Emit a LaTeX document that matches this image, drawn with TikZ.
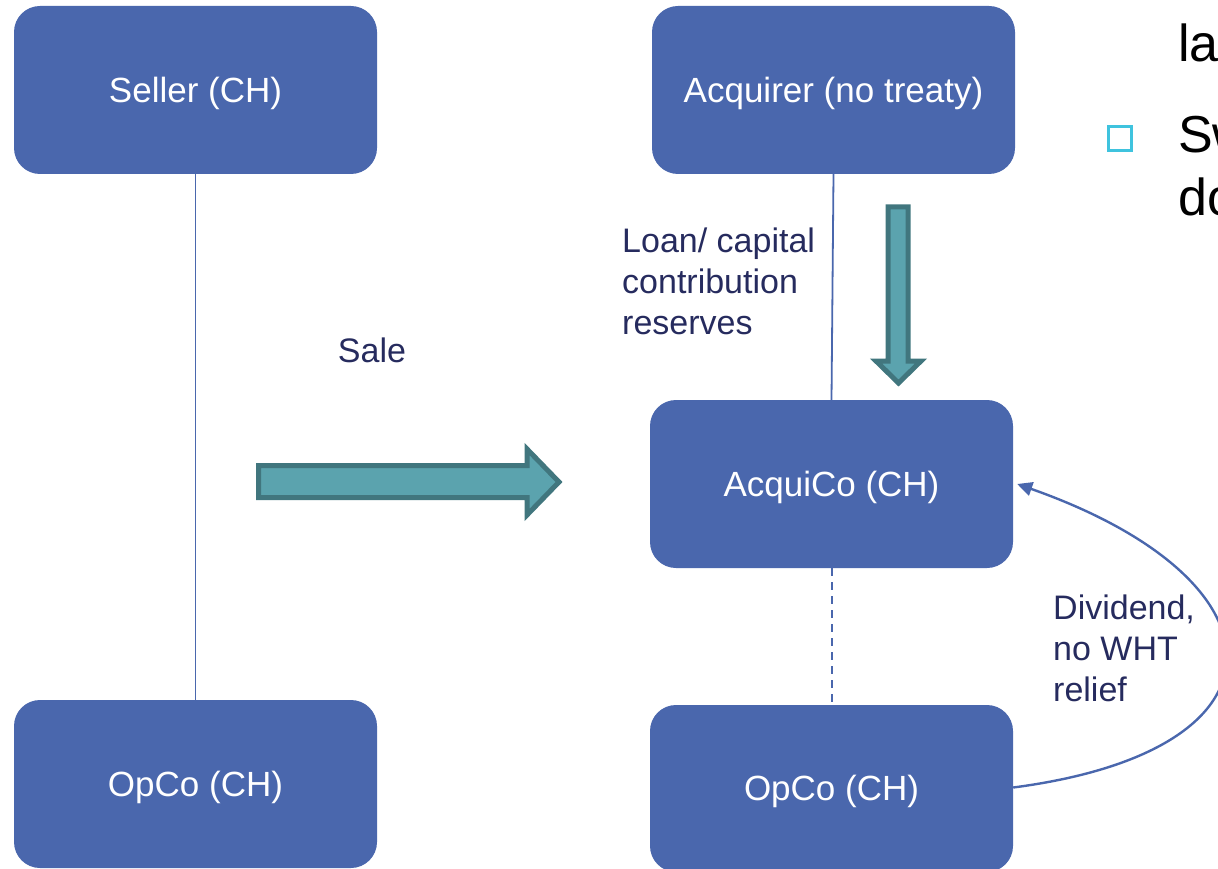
\documentclass[tikz,border=0pt]{standalone}
\usepackage{fontspec}
\setmainfont{Liberation Sans}
\usetikzlibrary{arrows.meta}
\definecolor{boxblue}{HTML}{4A67AD}
\definecolor{linkblue}{HTML}{4A67AD}
\definecolor{labelnavy}{HTML}{262B5E}
\definecolor{tealfill}{HTML}{5BA3AE}
\definecolor{tealedge}{HTML}{41767E}
\definecolor{bulletcyan}{HTML}{3FC3DE}
\tikzset{
  entity/.style={rectangle, rounded corners=26pt, fill=boxblue, draw=none,
    minimum width=363pt, minimum height=168pt, text=white, text depth=1pt,
    font=\fontsize{35}{42}\selectfont},
  flowlabel/.style={text=labelnavy, align=left, inner sep=0pt,
    font=\fontsize{34}{41}\selectfont},
  link/.style={draw=linkblue, line width=1.8pt},
  flowlink/.style={draw=linkblue, line width=2.4pt},
  dashlink/.style={draw=linkblue, line width=2pt, dash pattern=on 8pt off 6pt},
  blockarrow/.style={fill=tealfill, draw=tealedge, line width=5pt, line join=miter},
  slidetext/.style={text=black, inner sep=0pt, font=\fontsize{52}{62}\selectfont},
}
\begin{document}
\begin{tikzpicture}[x=1pt, y=-1pt]
\useasboundingbox (0,0) rectangle (1218,869);
\clip (0,0) rectangle (1218,869);

% companies before and after the sale
\node[entity] (seller)   at (195.5, 90)    {Seller (CH)};
\node[entity] (opcoL)    at (195.5, 784)   {OpCo (CH)};
\node[entity] (acquirer) at (833.5, 90)    {Acquirer (no treaty)};
\node[entity] (acquico)  at (831.5, 484)   {AcquiCo (CH)};
\node[entity, minimum height=167pt] (opcoR) at (831.5, 788.5) {OpCo (CH)};

% ownership links
\draw[link] (seller.south) -- (opcoL.north);
\draw[link] (acquirer.south) -- (acquico.north);
\draw[dashlink] (acquico.south) -- (opcoR.north);

% dividend flow back up to AcquiCo
\coordinate (divin) at ([xshift=4pt]acquico.east);
\draw[flowlink, -{Triangle[length=15pt, width=14pt]}]
  ([yshift=1pt]opcoR.east) .. controls (1300,750) and (1290,580) .. (divin);

% sale arrow
\draw[blockarrow] (258.5,465.5) -- (527,465.5) -- (527,449) -- (559,482)
  -- (527,515) -- (527,497.5) -- (258.5,497.5) -- cycle;
% funding arrow
\draw[blockarrow] (888,207) -- (908,207) -- (908,361) -- (921,361) -- (898.5,383)
  -- (876,361) -- (888,361) -- cycle;

% labels
\node[flowlabel] (sale) at (372, 350) {Sale};
\node[flowlabel, anchor=west] (loan) at (622, 281)
  {Loan/ capital\\contribution\\reserves};
\node[flowlabel, anchor=west] (dividend) at (1053, 648)
  {Dividend,\\no WHT\\relief};

% slide text running off the right edge
\node[slidetext, anchor=base west] (line1) at (1178, 62)  {la};
\draw[draw=bulletcyan, line width=3pt] (1108.5,126.5) rectangle (1131.5,150.5);
\node[slidetext, anchor=base west] (line2) at (1178, 153) {Sw};
\node[slidetext, anchor=base west] (line3) at (1178, 215) {do};
\end{tikzpicture}
\end{document}
